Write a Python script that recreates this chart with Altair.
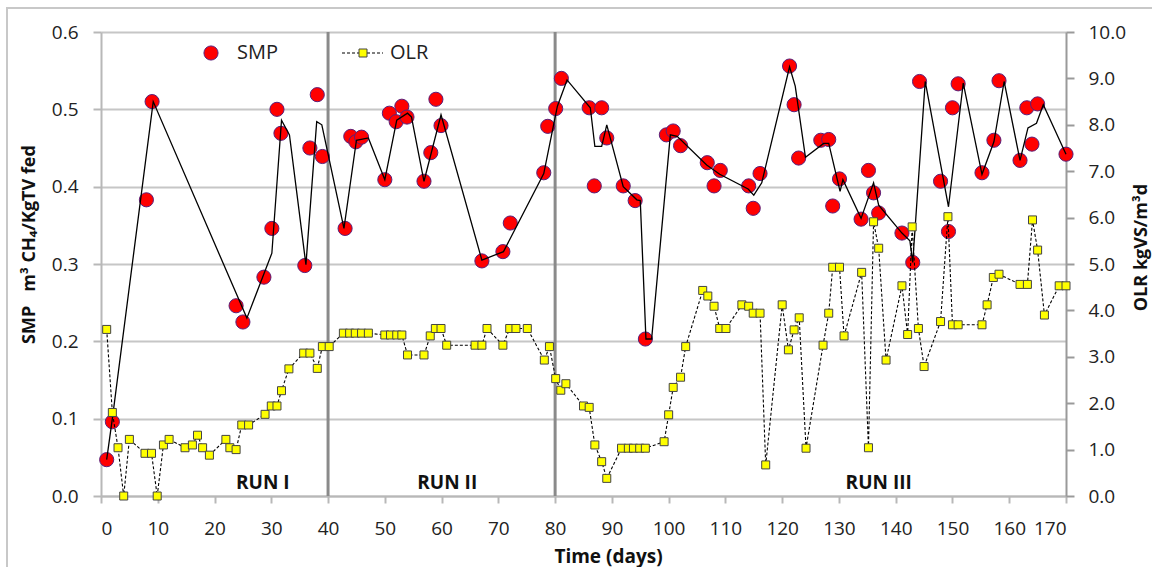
import altair as alt
import pandas as pd

# ---------------- data ----------------
smp_days = [1, 2, 8, 9, 23.8, 25, 28.7, 30.1, 31, 31.7, 35.9, 36.8, 38.1, 39,
            43, 44, 44.9, 45.9, 50, 50.8, 52, 53, 53.9, 56.9, 58.1, 59, 59.9,
            67.1, 70.8, 72.1, 78, 78.7, 80.1, 81.1,
            86, 86.9, 88.2, 89.1, 92, 94.1, 95.9, 99.6, 100.8, 102.1, 106.8, 108,
            109.1, 114.1, 114.9, 116.1, 121.3, 122.1, 122.9, 126.8, 128.2, 128.9,
            130.1, 133.9, 135.2, 136.1, 137, 141.1, 143, 144.2, 147.9, 149.3, 150,
            151, 155.2, 157.3, 158.2, 161.9, 163.1, 164, 165, 170]
smp_vals = [0.047, 0.096, 0.383, 0.51, 0.246, 0.225, 0.283, 0.346, 0.50, 0.469, 0.298, 0.45, 0.519, 0.439,
            0.346, 0.465, 0.458, 0.464, 0.409, 0.495, 0.484, 0.504, 0.49, 0.407, 0.444, 0.513, 0.479,
            0.304, 0.316, 0.353, 0.418, 0.478, 0.501, 0.54,
            0.502, 0.401, 0.502, 0.463, 0.401, 0.382, 0.203, 0.467, 0.472, 0.453, 0.431, 0.401,
            0.421, 0.401, 0.372, 0.417, 0.556, 0.506, 0.437, 0.46, 0.461, 0.375,
            0.41, 0.358, 0.421, 0.392, 0.366, 0.34, 0.302, 0.536, 0.407, 0.342, 0.502,
            0.533, 0.418, 0.46, 0.537, 0.434, 0.502, 0.455, 0.507, 0.442]

trend_days = [1, 2, 9.2, 25.7, 30.1, 31.8, 33.2, 36.1, 38, 38.9, 42.8, 45, 47.1, 50, 52.1,
              54, 54.7, 56.9, 59.9, 67.1, 70.9, 72.1, 78, 80.4, 82.1, 86.2, 87, 88.2, 89.1,
              92, 94.4, 95, 96, 97, 100.3, 101.5, 106.7, 109, 114, 115, 116.4, 121.3, 122.3,
              124.1, 127.3, 128.2, 130.2, 130.7, 133.9, 136.1, 137, 141.1, 142.5, 143, 145.2,
              149.3, 151.9, 155.2, 157.3, 159.1, 161.9, 163.3, 164.8, 166, 170]
trend_vals = [0.047, 0.1, 0.51, 0.23, 0.314, 0.486, 0.467, 0.299, 0.484, 0.48, 0.346, 0.46, 0.463, 0.409, 0.486,
              0.495, 0.49, 0.407, 0.493, 0.305, 0.316, 0.333, 0.417, 0.504, 0.538, 0.502, 0.452, 0.452, 0.48,
              0.40, 0.383, 0.382, 0.203, 0.203, 0.467, 0.465, 0.428, 0.416, 0.397, 0.389, 0.405, 0.555, 0.53,
              0.438, 0.456, 0.456, 0.394, 0.409, 0.359, 0.405, 0.376, 0.34, 0.33, 0.302, 0.536,
              0.374, 0.534, 0.416, 0.458, 0.536, 0.434, 0.476, 0.482, 0.506, 0.442]

olr_days = [1, 2, 3, 4, 5, 7.75, 8.9, 9.9, 11, 12, 14.8, 16.1, 17, 17.9, 19.1, 22, 22.7, 23.8,
            24.8, 26, 28.9, 30, 31, 31.8, 33.1, 35.7, 36.8, 38.1, 39, 40.2,
            42.7, 43.8, 44.8, 45.9, 47.1, 50, 51, 52.1, 53, 54, 56.9, 58, 58.9, 59.9, 60.9,
            65.9, 67.1, 68, 70.8, 72, 73.1, 75.1, 78.1, 79, 80.1,
            81, 81.9, 85, 86, 87, 88.2, 89.1, 91.7, 92.9, 93.8, 94.9, 95.9, 99.2, 100, 100.8,
            102.1, 103, 106, 106.9, 108, 109, 110.1, 112.9, 114.1, 114.9, 116.1, 117.1, 120,
            121.1, 122.1, 123, 124.2, 127.2, 128.2, 128.9, 130.1, 130.9, 134, 135.2, 136.1,
            137, 138.3, 141.1, 142.1, 142.9, 144, 145, 147.9, 149.2, 150, 151, 155.2, 156.1,
            157.2, 158.2, 161.9, 163.2, 164.1, 165, 166.2, 168.8, 170]
olr_vals = [3.59, 1.80, 1.04, 0.0, 1.22, 0.92, 0.92, 0.0, 1.10, 1.22, 1.04, 1.10, 1.31, 1.04, 0.88, 1.22, 1.04, 1.0,
            1.53, 1.53, 1.76, 1.94, 1.94, 2.27, 2.74, 3.08, 3.08, 2.75, 3.22, 3.22,
            3.51, 3.51, 3.51, 3.51, 3.51, 3.47, 3.47, 3.47, 3.47, 3.04, 3.04, 3.45, 3.61, 3.61, 3.25,
            3.25, 3.25, 3.61, 3.25, 3.61, 3.61, 3.61, 2.93, 3.22, 2.53,
            2.28, 2.42, 1.94, 1.91, 1.10, 0.74, 0.38, 1.03, 1.03, 1.03, 1.03, 1.03, 1.17, 1.75, 2.34,
            2.56, 3.22, 4.43, 4.31, 4.09, 3.61, 3.61, 4.12, 4.09, 3.94, 3.94, 0.67, 4.12,
            3.15, 3.58, 3.84, 1.03, 3.25, 3.94, 4.93, 4.93, 3.45, 4.82, 1.04, 5.91,
            5.34, 2.93, 4.53, 3.48, 5.80, 3.61, 2.79, 3.76, 6.02, 3.69, 3.69, 3.69, 4.12,
            4.71, 4.78, 4.56, 4.56, 5.95, 5.30, 3.90, 4.53, 4.53]

run_bounds = [40, 80]
run_labels = ["RUN I", "RUN II", "RUN III"]
run_label_days = [28.5, 61, 137]

x_ticks = list(range(0, 171, 10))
left_ticks = [0.0, 0.1, 0.2, 0.3, 0.4, 0.5, 0.6]
right_ticks = [0, 1, 2, 3, 4, 5, 6, 7, 8, 9, 10]

# ---------------- styling ----------------
FONT = "Open Sans"
W, H = 965, 464
AX_GRAY = "#b8b8b8"

smp_df = pd.DataFrame({"day": smp_days, "smp": smp_vals})
trend_df = pd.DataFrame({"day": trend_days, "smp": trend_vals})
olr_df = pd.DataFrame({"day": olr_days, "olr": olr_vals})
runs_df = pd.DataFrame({"day": run_bounds})
labels_df = pd.DataFrame({"day": run_label_days, "label": run_labels})
one = pd.DataFrame({"k": [0]})

xscale = alt.Scale(domain=[0, 170], nice=False, zero=False)
yl = alt.Scale(domain=[0, 0.6], nice=False)
yr = alt.Scale(domain=[0, 10], nice=False)

x_axis = alt.Axis(values=x_ticks, format="d", title="Time (days)", grid=False,
                  domainColor=AX_GRAY, domainWidth=2, tickColor=AX_GRAY, tickWidth=2,
                  tickSize=7, labelPadding=16, labelFont=FONT, labelFontSize=19,
                  labelColor="#222222", titleFont=FONT, titleFontSize=19,
                  titleFontWeight="bold", titleColor="#111111", titleX=507, titleY=60,
                  titleAlign="center", titleBaseline="middle")
x_enc = alt.X("day:Q", scale=xscale, axis=x_axis)

left_axis = alt.Axis(values=left_ticks, format=".1f",
                     title="SMP\u00a0\u00a0\u00a0m³ CH₄/KgTV fed",
                     grid=True, gridColor="#c6c6c6", gridWidth=2,
                     domainColor=AX_GRAY, domainWidth=2, tickColor=AX_GRAY, tickWidth=2,
                     tickSize=8, labelPadding=15, labelFont=FONT, labelFontSize=19,
                     labelColor="#222222", titleFont=FONT, titleFontSize=18,
                     titleFontWeight="bold", titleColor="#111111", titleX=-72, titleY=212,
                     titleAngle=270, titleAlign="center", titleBaseline="middle")
right_axis = alt.Axis(orient="right", values=right_ticks, format=".1f",
                      title="OLR kgVS/m³d", grid=False,
                      domainColor="#9a9a9a", domainWidth=2, tickColor="#9a9a9a", tickWidth=2,
                      tickSize=8, labelPadding=14, labelFont=FONT, labelFontSize=19,
                      labelColor="#222222", titleFont=FONT, titleFontSize=18,
                      titleFontWeight="bold", titleColor="#111111", titleX=75, titleY=215,
                      titleAngle=270, titleAlign="center", titleBaseline="middle")
yl_enc = alt.Y("smp:Q", scale=yl, axis=left_axis)
yr_enc = alt.Y("olr:Q", scale=yr, axis=right_axis)

frame = alt.Chart(one).mark_rect(fillOpacity=0, stroke="#c8c8c8", strokeWidth=2).encode(
    x=alt.value(-94), x2=alt.value(1300), y=alt.value(-24), y2=alt.value(800))

rules = alt.Chart(runs_df).mark_rule(color="#8a8a8a", strokeWidth=3).encode(x=x_enc)

run_text = alt.Chart(labels_df).mark_text(font=FONT, fontSize=19, fontWeight="bold",
                                          color="#111111", baseline="middle").encode(
    x=x_enc, y=alt.value(451), text="label:N")

smp_pts = alt.Chart(smp_df).mark_circle(size=200, color="#ff0000", opacity=1,
                                        stroke="#5a1f7a", strokeWidth=1).encode(
    x=x_enc, y=yl_enc)

trend = alt.Chart(trend_df).mark_line(color="#000000", strokeWidth=1.3).encode(
    x=x_enc, y=yl_enc, order="day:Q")

leg_smp_pt = alt.Chart(one).mark_circle(size=200, color="#ff0000", opacity=1,
                                        stroke="#5a1f7a", strokeWidth=1).encode(
    x=alt.value(110), y=alt.value(21))
leg_smp_tx = alt.Chart(one).mark_text(text="SMP", font=FONT, fontSize=20, align="left",
                                      baseline="middle", color="#222222").encode(
    x=alt.value(136), y=alt.value(21))

left = alt.layer(frame, rules, run_text, smp_pts, trend, leg_smp_pt, leg_smp_tx)

olr_line = alt.Chart(olr_df).mark_line(color="#000000", strokeWidth=1.1,
                                       strokeDash=[3, 2]).encode(
    x=x_enc, y=yr_enc, order="day:Q")
olr_pts = alt.Chart(olr_df).mark_point(shape="square", filled=True, size=64,
                                       fill="#ffff00", stroke="#444444", strokeWidth=1,
                                       opacity=1).encode(
    x=x_enc, y=yr_enc)

leg_olr_ln = alt.Chart(one).mark_rule(color="#000000", strokeWidth=1.1,
                                      strokeDash=[3, 2]).encode(
    x=alt.value(241), x2=alt.value(282), y=alt.value(21))
leg_olr_pt = alt.Chart(one).mark_point(shape="square", filled=True, size=64,
                                       fill="#ffff00", stroke="#444444", strokeWidth=1,
                                       opacity=1).encode(
    x=alt.value(262), y=alt.value(21))
leg_olr_tx = alt.Chart(one).mark_text(text="OLR", font=FONT, fontSize=20, align="left",
                                      baseline="middle", color="#222222").encode(
    x=alt.value(289), y=alt.value(21))

right = alt.layer(olr_line, olr_pts, leg_olr_ln, leg_olr_pt, leg_olr_tx)

chart = alt.layer(left, right).resolve_scale(y="independent").properties(
    width=W, height=H,
    autosize=alt.AutoSizeParams(type="none"),
    padding={"left": 101, "top": 32, "right": 86, "bottom": 71},
    background="#ffffff",
).configure_view(strokeWidth=0)

chart.save("out.html", embed_options={"renderer": "svg", "actions": False})
